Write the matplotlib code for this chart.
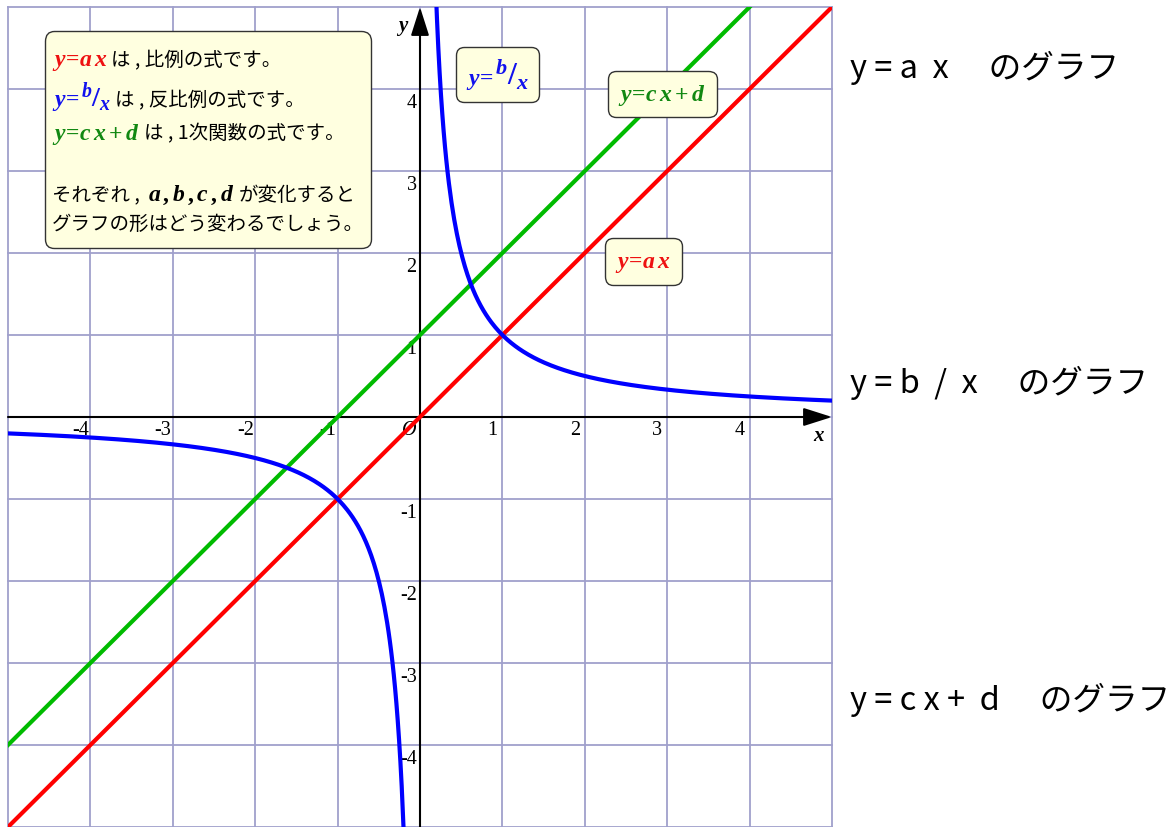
import numpy as np
import matplotlib
matplotlib.use("Agg")
import matplotlib.pyplot as plt
from matplotlib.offsetbox import TextArea, HPacker, VPacker, AnnotationBbox

# parameters of the three graphs
a, b, c, d = 1, 1, 1, 1
x_lo, x_hi = -5, 5
y_lo, y_hi = -5, 5
ticks = [-4, -3, -2, -1, 1, 2, 3, 4]

plt.rcParams['mathtext.fontset'] = 'custom'
plt.rcParams['mathtext.it'] = 'Liberation Serif:italic:bold'
plt.rcParams['mathtext.rm'] = 'Liberation Serif:bold'
plt.rcParams['mathtext.bf'] = 'Liberation Serif:bold'

JP = ['Noto Sans CJK JP', 'DejaVu Sans']
SERIF = 'Liberation Serif'
RED, BLUE, GREEN = '#ff0000', '#0000ff', '#00bb00'
TRED, TBLUE, TGREEN = '#ee1111', '#1111ee', '#118811'
BOXFC = '#ffffe0'
GRIDC = '#a0a0cc'

fig = plt.figure(figsize=(11.75, 8.28), dpi=100)
ax = fig.add_axes([8 / 1175, 0, 824 / 1175, 820 / 828])
ax.set_xlim(x_lo, x_hi)
ax.set_ylim(y_lo, y_hi)
ax.axis('off')

# grid
for k in range(x_lo, x_hi + 1):
    ax.axvline(k, color=GRIDC, lw=1.3, zorder=0, clip_on=False)
for k in range(y_lo, y_hi + 1):
    ax.axhline(k, color=GRIDC, lw=1.3, zorder=0, clip_on=False)

# axes with arrows
arr = dict(arrowstyle='-|>,head_length=1.1,head_width=0.35', color='black', lw=1.5,
           shrinkA=0, shrinkB=0, mutation_scale=16)
ax.annotate('', xy=(x_hi, 0), xytext=(x_lo, 0), arrowprops=arr, zorder=2)
ax.annotate('', xy=(0, y_hi), xytext=(0, y_lo), arrowprops=arr, zorder=2)
ax.text(x_hi - 0.16, -0.22, 'x', family=SERIF, style='italic', weight='bold',
        fontsize=15, ha='center', va='center')
ax.text(-0.21, y_hi - 0.22, 'y', family=SERIF, style='italic', weight='bold',
        fontsize=15, ha='center', va='center')

# tick labels
for t in ticks:
    ax.text(t - 0.12, -0.15, str(t), family=SERIF, fontsize=14.5, ha='center', va='center')
    ax.text(-0.04, t - 0.17, str(t), family=SERIF, fontsize=14.5, ha='right', va='center')
ax.text(-0.13, -0.15, 'O', family=SERIF, style='italic', fontsize=14.5, ha='center', va='center')

# graphs
xs = np.linspace(x_lo, x_hi, 400)
ax.plot(xs, a * xs, color=RED, lw=3, zorder=3)
ax.plot(xs, c * xs + d, color=GREEN, lw=3, zorder=3)
xn = np.linspace(x_lo, -0.19, 300)
xp = np.linspace(0.19, x_hi, 300)
ax.plot(xn, b / xn, color=BLUE, lw=3, zorder=3)
ax.plot(xp, b / xp, color=BLUE, lw=3, zorder=3)

fs = 14


def jp(s, color='black', size=fs):
    return TextArea(s, textprops=dict(family=JP, fontsize=size, color=color))


def mt(s, color, size=17):
    return TextArea(s, textprops=dict(fontsize=size, color=color))


def row(items, sep=3):
    return HPacker(children=items, align='baseline', pad=0, sep=sep)


def inverse(size, big=1.35):
    return row([mt(r'$y\!=\!$', TBLUE, size), mt(r'${}^{b}/_{x}$', TBLUE, size * big)], sep=1)


lines = [
    jp(' ', size=1),
    row([mt(r'$y\!=\!a\,x$', TRED), jp('は , 比例の式です。')]),
    row([inverse(17, 1.2), jp('は , 反比例の式です。')]),
    row([mt(r'$y\!=\!c\,x+d$', TGREEN), jp('は , 1次関数の式です。')]),
    jp(' '),
    row([jp('それぞれ , '), mt(r'$a\,,b\,,c\,,d$', 'black'), jp('が変化すると')]),
    jp('グラフの形はどう変わるでしょう。'),
    jp(' ', size=1),
]
body = VPacker(children=lines, align='left', pad=0, sep=5)
boxprops = dict(boxstyle='round,pad=0.5,rounding_size=0.7', fc=BOXFC, ec='#333333', lw=1)
ab = AnnotationBbox(body, (-4.47, 4.62), xycoords='data', box_alignment=(0, 1),
                    frameon=True, pad=0.6, bboxprops=boxprops, zorder=5)
ax.add_artist(ab)

# small label boxes
lprops = dict(boxstyle='round,pad=0.75,rounding_size=0.6', fc=BOXFC, ec='#333333', lw=1)
labels = [
    (inverse(17), (0.94, 4.18)),
    (mt(r'$y\!=\!c\,x+d$', TGREEN, 17), (2.94, 3.94)),
    (mt(r'$y\!=\!a\,x$', TRED, 17), (2.71, 1.90)),
]
for box, pos in labels:
    ab = AnnotationBbox(box, pos, xycoords='data', box_alignment=(0.5, 0.5),
                        frameon=True, pad=0.6, bboxprops=lprops, zorder=5)
    ax.add_artist(ab)

# right side captions
captions = ['y = a  x　 のグラフ', 'y = b  /  x　 のグラフ', 'y = c x +  d　 のグラフ']
cap_y = [68, 383, 700]
for s, py in zip(captions, cap_y):
    fig.text(850 / 1175, 1 - py / 828, s, family=JP, fontsize=23.5, ha='left', va='center')

fig.savefig('out.png', dpi=100)
